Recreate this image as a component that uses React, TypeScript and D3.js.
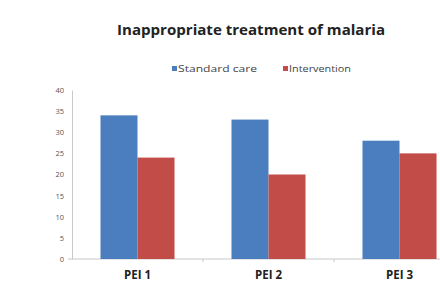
import React, { useRef, useEffect } from 'react';
import * as d3 from 'd3';

const categories = ['PEI 1', 'PEI 2', 'PEI 3'];
const seriesNames = ['Standard care', 'Intervention'];
const standardCare = [34, 33, 28];
const intervention = [24, 20, 25];
const yTicks = [0, 5, 10, 15, 20, 25, 30, 35, 40];
const colors = ['#4a7ebf', '#c24c48'];

const App: React.FC = () => {
  const svgRef = useRef<SVGSVGElement>(null);

  useEffect(() => {
    if (!svgRef.current) return;
    const svg = d3.select(svgRef.current);
    svg.selectAll('*').remove();

    const font = '"Open Sans", "DejaVu Sans", sans-serif';
    const y = d3.scaleLinear().domain([0, 40]).range([259, 90]);
    const x0 = d3.scaleBand().domain(categories).range([72, 465]).paddingInner(0.435).paddingOuter(0.2175);
    const x1 = d3.scaleBand().domain(seriesNames).range([0, x0.bandwidth()]);

    // Title
    svg.append('text')
      .attr('x', 251).attr('y', 35)
      .attr('text-anchor', 'middle')
      .attr('font-family', font).attr('font-weight', 700)
      .attr('font-size', '14.5px').attr('fill', '#222')
      .attr('textLength', 268).attr('lengthAdjust', 'spacingAndGlyphs')
      .text('Inappropriate treatment of malaria');

    // Legend
    const legendX = [172, 283];
    const legendW = [79, 62];
    seriesNames.forEach((name, i) => {
      svg.append('rect')
        .attr('x', legendX[i]).attr('y', 66).attr('width', 5).attr('height', 5)
        .attr('fill', colors[i]);
      svg.append('text')
        .attr('x', legendX[i] + 6).attr('y', 72)
        .attr('font-family', font).attr('font-size', '9.5px').attr('fill', '#444')
        .attr('textLength', legendW[i]).attr('lengthAdjust', 'spacingAndGlyphs')
        .text(name);
    });

    // Y axis
    const yAxis = svg.append('g')
      .attr('transform', 'translate(72,0)')
      .call(d3.axisLeft(y).tickValues(yTicks).tickSize(0).tickPadding(8));
    yAxis.select('.domain').attr('stroke', '#c8c8c8');
    yAxis.selectAll('text')
      .attr('font-family', font).attr('font-size', '7.5px').attr('fill', '#555');

    // X axis line and tick marks between categories
    svg.append('line')
      .attr('x1', 68).attr('x2', 440).attr('y1', y(0)).attr('y2', y(0))
      .attr('stroke', '#c8c8c8');
    categories.slice(1).forEach(c => {
      const tx = (x0(c) || 0) - (x0.step() - x0.bandwidth()) / 2;
      svg.append('line')
        .attr('x1', tx).attr('x2', tx).attr('y1', y(0)).attr('y2', y(0) + 3)
        .attr('stroke', '#c8c8c8');
    });

    // Bars
    const values = [standardCare, intervention];
    values.forEach((vals, s) => {
      svg.selectAll(`.bar-${s}`)
        .data(categories)
        .enter().append('rect')
        .attr('class', `bar-${s}`)
        .attr('x', d => (x0(d) || 0) + (x1(seriesNames[s]) || 0))
        .attr('width', x1.bandwidth())
        .attr('y', (_, i) => y(vals[i]))
        .attr('height', (_, i) => y(0) - y(vals[i]))
        .attr('fill', colors[s]);
    });

    // Category labels
    svg.selectAll('.cat')
      .data(categories)
      .enter().append('text')
      .attr('class', 'cat')
      .attr('x', d => (x0(d) || 0) + x0.bandwidth() / 2)
      .attr('y', 279)
      .attr('text-anchor', 'middle')
      .attr('font-family', font).attr('font-weight', 700)
      .attr('font-size', '11.5px').attr('fill', '#222')
      .text(d => d);
  }, []);

  return (
    <div style={{ position: 'fixed', left: 0, top: 0, width: 440, height: 285, background: '#fff' }}>
      <svg ref={svgRef} width={440} height={285} style={{ display: 'block' }} />
    </div>
  );
};

export default App;
